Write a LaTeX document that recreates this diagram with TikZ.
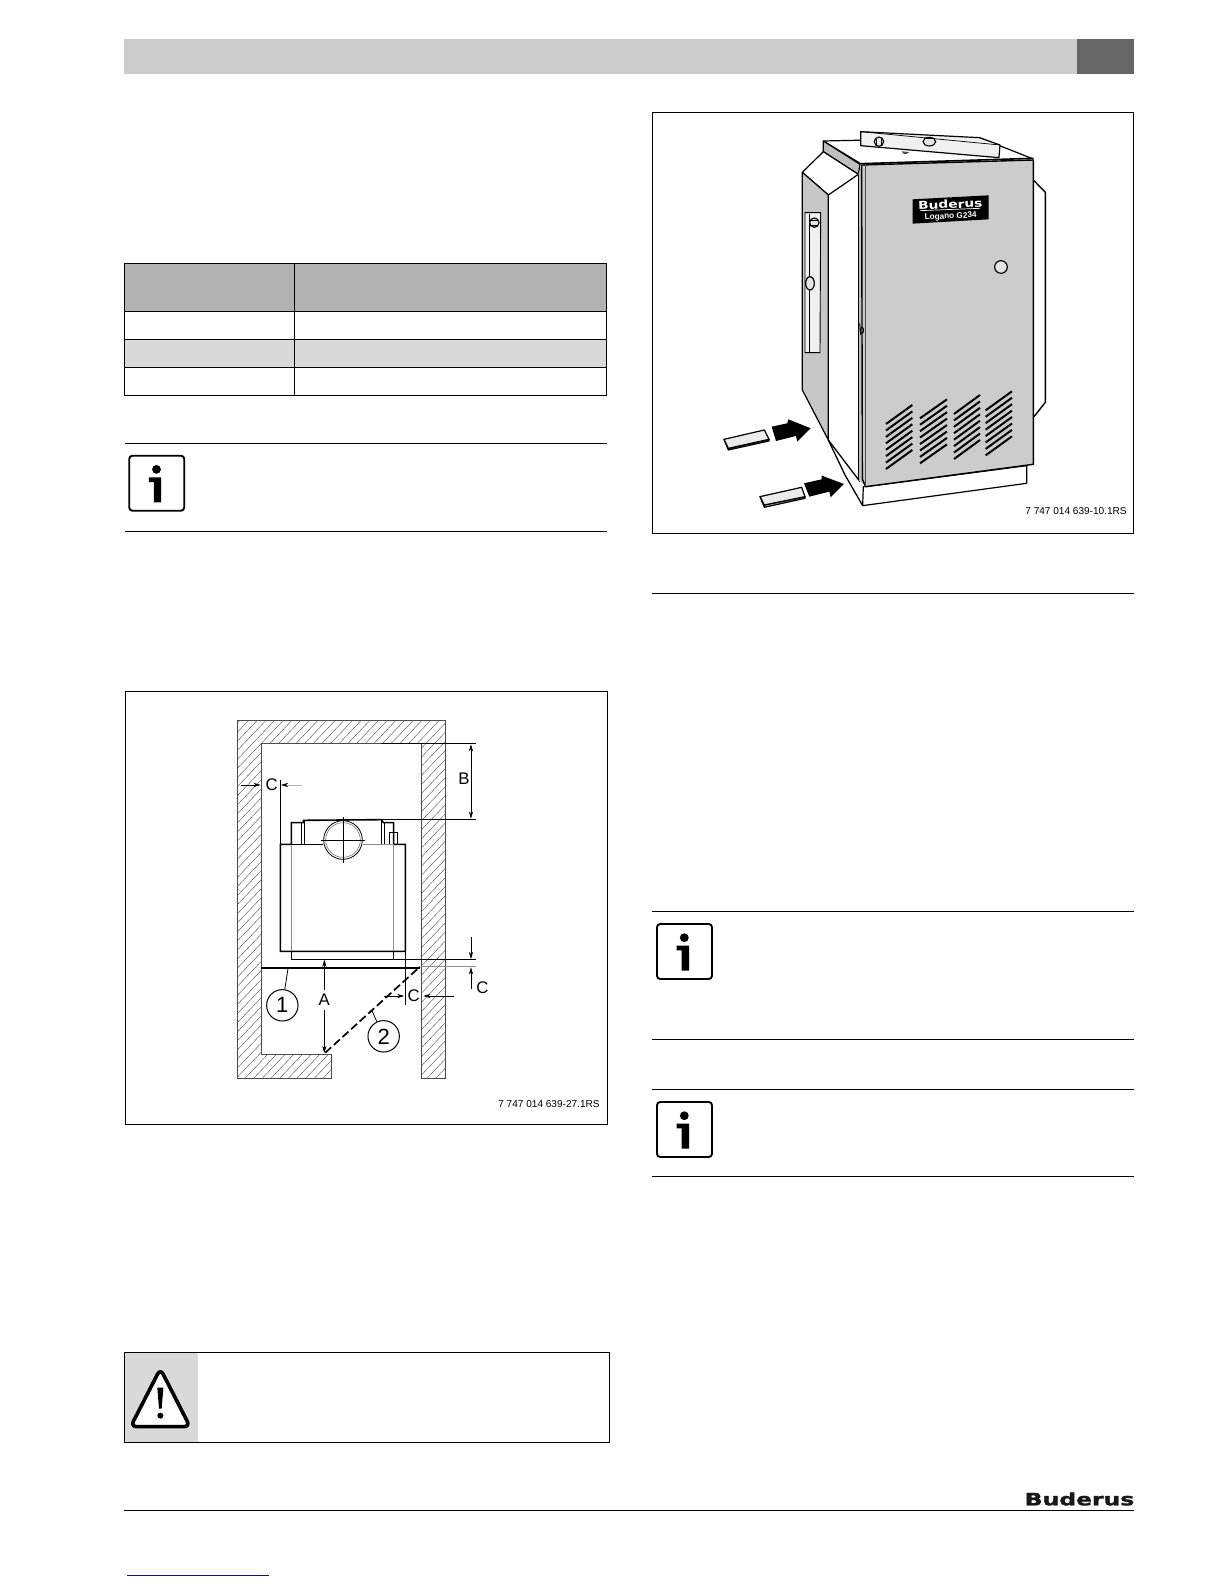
\documentclass[tikz,border=0pt]{standalone}
\usepackage{fontspec}
\setmainfont{Liberation Sans}
\newfontfamily\logofont[FakeBold=1.4]{DejaVu Sans Bold}
\newfontfamily\badgefont{DejaVu Sans Bold}
\usetikzlibrary{arrows.meta}
\definecolor{hdrgrey}{HTML}{CCCCCC}
\definecolor{hdrdark}{HTML}{666666}
\definecolor{tabhead}{HTML}{B2B2B2}
\definecolor{tabrow}{HTML}{D9D9D9}
\definecolor{linkblue}{HTML}{10107F}
\tikzset{
  frameline/.style={draw=black,line width=0.42pt},
  ruleline/.style={draw=black,line width=0.45pt},
  caption/.style={font=\fontsize{5.03}{6}\selectfont,inner sep=0pt,anchor=east},
  dimlabel/.style={font=\fontsize{8.4}{9}\selectfont,inner sep=0pt},
  callout/.style={circle,draw=black,line width=0.5pt,minimum size=15.7pt,inner sep=0pt,font=\fontsize{11}{11}\selectfont},
  thickline/.style={line width=0.8pt},
  thinline/.style={line width=0.35pt},
  greyline/.style={line width=0.4pt,draw=black!45},
  dimarrow/.style={line width=0.3pt,-{Stealth[length=3.6pt,width=2.1pt]}},
  greyarrow/.style={line width=0.3pt,draw=black!30,-{Stealth[length=3.6pt,width=2.1pt,color=black]}},
  slat/.style={line width=1pt,black},
  outline/.style={draw=black,line width=0.6pt,line join=round},
  infoicon/.pic={
    \draw[line width=0.95pt,rounded corners=1.6pt] (0,0) rectangle (55,55);
    \fill (27.3,13.7) circle (4.4);
    \fill (19.7,21.7) -- (32,21.7) -- (32,46.7) -- (24.7,46.7) -- (24.7,26.3) -- (19.7,26.3) -- cycle;
  }
}
\begin{document}
\begin{tikzpicture}[x=0.5pt,y=-0.5pt]
\useasboundingbox (0,0) rectangle (1224,1584);
% header bar
\fill[hdrgrey] (124,39) rectangle (1077,74);
\fill[hdrdark] (1077,39) rectangle (1134,74);
% table
\fill[tabhead] (124.3,263.3) rectangle (606.5,311.3);
\fill[tabrow] (124.3,339.3) rectangle (606.5,367.3);
\draw[frameline] (124.3,263.3) rectangle (606.5,395.3);
\draw[frameline] (294.3,263.3) -- (294.3,395.3);
\draw[frameline] (124.3,311.3) -- (606.5,311.3) (124.3,339.3) -- (606.5,339.3) (124.3,367.3) -- (606.5,367.3);
% rules left
\draw[ruleline] (125,443.3) -- (606.5,443.3) (125,531.3) -- (606.5,531.3);
\pic at (129.2,455.7) {infoicon};
% rules right
\draw[ruleline] (652,593) -- (1133.5,593) (652,911) -- (1133.5,911) (652,1039) -- (1133.5,1039) (652,1089) -- (1133.5,1089) (652,1176.6) -- (1133.5,1176.6);
\pic at (657,924) {infoicon};
\pic at (657,1102) {infoicon};
% frames
\draw[frameline] (125,691) rectangle (607,1124);
\draw[frameline] (652.5,112.3) rectangle (1133.5,533.3);
\node[caption] (capA) at (600,1104) {7 747 014 639-27.1RS};
\node[caption] (capB) at (1127,511) {7 747 014 639-10.1RS};
% warning box
\fill[tabrow] (124.7,1352.3) rectangle (198,1442);
\draw[frameline] (124.7,1352.3) rectangle (609,1442);
\begin{scope}[shift={(120,1340)},x=0.5pt/3,y=-0.5pt/3]
  \draw[line width=1.8pt,rounded corners=3pt,line join=round,fill=white] (121,86) -- (32,260) -- (210,260) -- cycle;
  \fill (112,143) -- (130,143) -- (125,206) -- (117,206) -- cycle;
  \fill (121,227) circle (9);
\end{scope}
% footer
\draw[line width=0.55pt] (124,1510.3) -- (1134,1510.3);
\node[inner sep=0pt,anchor=center,xscale=1.38,font=\fontsize{8.5}{9}\logofont,text=black!90] (logo) at (1079.5,1499) {Buderus};
\draw[linkblue,line width=0.6pt] (127,1575.3) -- (269,1575.3);

% ===== plan view =====
\begin{scope}[shift={(220,700)},x=0.5pt/3,y=-0.5pt/3]
  \def\wallpath{(52,60) -- (676,60) -- (676,1137) -- (604,1137) -- (604,131) -- (124,131) -- (124,1065) -- (336,1065) -- (336,1137) -- (52,1137) -- cycle}
  \begin{scope}
    \clip \wallpath;
    \foreach \c in {-1100,-1074,...,700} {
      \draw[line width=0.2pt,black!70] (\c,1140) -- (\c+1050,40);
    }
  \end{scope}
  \draw[line width=0.5pt,draw=black!70,line join=miter] \wallpath;
  % boiler
  \draw[thickline,line join=miter] (181,433) -- (214,433) -- (214,368) -- (250,368) -- (250,361) -- (484,359) -- (490,368) -- (521,368) -- (521,433) -- (556,433) -- (556,754) -- (181,754) -- cycle;
  \draw[thickline] (214,754) -- (214,778) -- (521,778) -- (521,754);
  \draw[thinline] (243,370) -- (243,433) (253,362) -- (253,433) (484,362) -- (484,433) (494,370) -- (494,433);
  \draw[thinline] (507,433) -- (507,397) -- (532,397) -- (532,433);
  \draw[greyline] (214,433) -- (214,754) (521,433) -- (521,754);
  \draw[greyline] (430,433) -- (521,433);
  \draw[thinline] (214,433) -- (310,433);
  \draw[line width=0.4pt,fill=white] (369,420) circle (58);
  \draw[line width=0.3pt,draw=black!55] (369,420) circle (52);
  \draw[thinline] (302,420) -- (434,420) (370,352) -- (370,488);
  % top dimension
  \draw[line width=0.45pt] (181,240) -- (181,433);
  \coordinate (c1a) at (62,255); \coordinate (c1b) at (122,255);
  \coordinate (c1c) at (245,255); \coordinate (c1d) at (183,255);
  \draw[dimarrow] (c1a) -- (c1b);
  \draw[greyarrow] (c1c) -- (c1d);
  \node[dimlabel] (labC1) at (155,255) {C};
  % B
  \draw[line width=0.45pt] (484,131) -- (768,131) (484,358) -- (768,358);
  \coordinate (b1) at (753,133); \coordinate (b2) at (753,356);
  \draw[line width=0.3pt,{Stealth[length=3.6pt,width=2.1pt]}-{Stealth[length=3.6pt,width=2.1pt]}] (b1) -- (b2);
  \node[dimlabel] (labB) at (732,237) {B};
  % bottom right C
  \draw[line width=0.45pt] (521,778) -- (768,778);
  \draw[greyline] (604,800) -- (768,800);
  \coordinate (c2a) at (753,712); \coordinate (c2b) at (753,777);
  \coordinate (c2c) at (753,868); \coordinate (c2d) at (753,802);
  \draw[dimarrow] (c2a) -- (c2b);
  \draw[dimarrow] (c2c) -- (c2d);
  \node[dimlabel] (labC2) at (787,862) {C};
  % floor line and door
  \draw[line width=1pt] (124,803) -- (600,803);
  \draw[line width=0.85pt,dash pattern=on 4pt off 1.8pt] (316,1058) -- (600,800);
  % A
  \node[dimlabel] (labA) at (313,900) {A};
  \coordinate (a1) at (313,779); \coordinate (a2) at (313,1059);
  \draw[dimarrow] (labA.north) ++(0,-12) -- (a1);
  \draw[dimarrow] (labA.south) ++(0,12) -- (a2);
  % C near door
  \draw[line width=0.45pt] (556,754) -- (556,915);
  \coordinate (c3a) at (491,888); \coordinate (c3b) at (553,888);
  \coordinate (c3c) at (703,888); \coordinate (c3d) at (610,888);
  \draw[dimarrow] (c3a) -- (c3b);
  \draw[dimarrow] (c3c) -- (c3d);
  \node[dimlabel] (labC3) at (581,888) {C};
  % callouts
  \node[callout] (n1) at (187,916) {1};
  \node[callout] (n2) at (491,1009) {2};
  \coordinate (t1) at (204,806); \coordinate (t2) at (456,933);
  \draw[line width=0.4pt] (n1) -- (t1);
  \draw[line width=0.4pt] (n2) -- (t2);
\end{scope}

% ===== boiler illustration =====
\begin{scope}[shift={(700,115)},x=0.5pt/3,y=-0.5pt/3]
  % back top
  \draw[outline] (370,78) -- (838,68) -- (1000,132);
  % right back edge
  \draw[line width=0.7pt] (1002,197) -- (1036,232) -- (1036,862) -- (1002,905);
  % level on top
  \draw[outline,fill=black!6] (482,50) -- (838,68) -- (900,90) -- (897,128) -- (482,92) -- cycle;
  \draw[line width=0.35pt] (482,50) -- (900,90);
  \draw[line width=0.55pt,fill=black!10] (537,80) circle (14);
  \draw[line width=0.7pt] (530,72) -- (530,90) (544,70) -- (544,90);
  \draw[line width=0.55pt,fill=black!10] (688,80) ellipse (19 and 13);
  \draw[line width=0.5pt] (675,72) -- (700,72);
  \fill[black!70] (605,109) -- (628,111) -- (620,117) -- (610,116) -- cycle;
  % top front edge
  \draw[line width=0.8pt] (483,146) -- (1000,130);
  \draw[line width=0.6pt] (370,78) -- (482,146);
  % top strip
  \draw[outline,fill=black!25] (370,78) -- (480,148) -- (475,178) -- (370,110) -- cycle;
  % chamfer
  \draw[outline,fill=white] (307,172) -- (370,110) -- (475,178) -- (385,240) -- cycle;
  % left dark side
  \draw[outline,fill=black!22] (307,172) -- (385,240) -- (385,975) -- (307,825) -- cycle;
  % side level
  \draw[line width=0.45pt,fill=black!6] (315,293) -- (362,293) -- (360,713) -- (315,713) -- cycle;
  \draw[line width=0.45pt] (328,296) -- (328,713);
  \draw[line width=0.55pt,fill=black!10] (343,323) circle (14);
  \draw[line width=0.7pt] (331,316) -- (355,316) (331,331) -- (355,331);
  \draw[line width=0.6pt,fill=black!10] (330,505) ellipse (13 and 20);
  % base
  \draw[outline,fill=white] (497,1115) -- (980,1052) -- (980,1105) -- (488,1172) -- (490,1115) -- cycle;
  % diagonals
  \draw[line width=0.65pt] (385,975) -- (480,1100);
  \draw[line width=0.65pt] (385,975) -- (435,1080) -- (488,1172);
  % strip and front panel
  \fill[black!25] (475,180) -- (485,150) -- (484,1092) -- (497,1115) -- (475,1095) -- cycle;
  \draw[line width=0.35pt] (475,180) -- (475,1095);
  \draw[line width=0.7pt,fill=hdrgrey,line join=round] (485,150) -- (1000,135) -- (1000,1048) -- (497,1115) -- (487,1092) -- cycle;
  \draw[line width=0.4pt,black!70] (497,148) -- (497,1113);
  % hinge/lock
  \draw[line width=0.45pt] (479,625) -- (482,660);
  \draw[line width=0.45pt] (486,646) ellipse (5 and 9);
  % knob
  \draw[line width=0.6pt,fill=black!10] (903,456) circle (19);
  % badge
  \fill[black] (638,253) -- (866,241) -- (866,313) -- (638,326) -- cycle;
  \node[inner sep=0pt,rotate=2.5,xscale=1.25,text=white,font=\fontsize{5.5}{6}\badgefont] (badgeA) at (751,268) {Buderus};
  \draw[white,line width=0.35pt] (660,287) -- (840,280);
  \node[inner sep=0pt,rotate=2.5,text=white,font=\fontsize{4.1}{5}\selectfont\bfseries] (badgeB) at (752,305) {Logano G234};
  % grilles
  \foreach \xa/\xb/\yt in {558/637/870,660/741/853,762/840/840,857/936/829} {
    \foreach \i in {0,...,7} {
      \draw[slat] (\xa,{\yt+\i*19.3+57}) -- (\xb,{\yt+\i*19.3});
    }
  }
  % shims
  \draw[outline,fill=black!35] (72,973) -- (85,1005) -- (207,978) -- (207,973) -- (85,1000) -- cycle;
  \draw[outline,fill=black!8] (72,973) -- (193,945) -- (207,973) -- (85,1000) -- cycle;
  \draw[outline,fill=black!35] (180,1145) -- (193,1177) -- (315,1150) -- (315,1145) -- (193,1170) -- cycle;
  \draw[outline,fill=black!8] (180,1145) -- (305,1117) -- (315,1145) -- (193,1170) -- cycle;
  % arrows
  \fill (215,935) -- (262,925) -- (265,913) -- (332,940) -- (292,980) -- (288,963) -- (228,978) -- cycle;
  \fill (312,1105) -- (365,1093) -- (365,1082) -- (432,1107) -- (392,1147) -- (388,1130) -- (328,1145) -- cycle;
\end{scope}
\end{tikzpicture}
\end{document}
